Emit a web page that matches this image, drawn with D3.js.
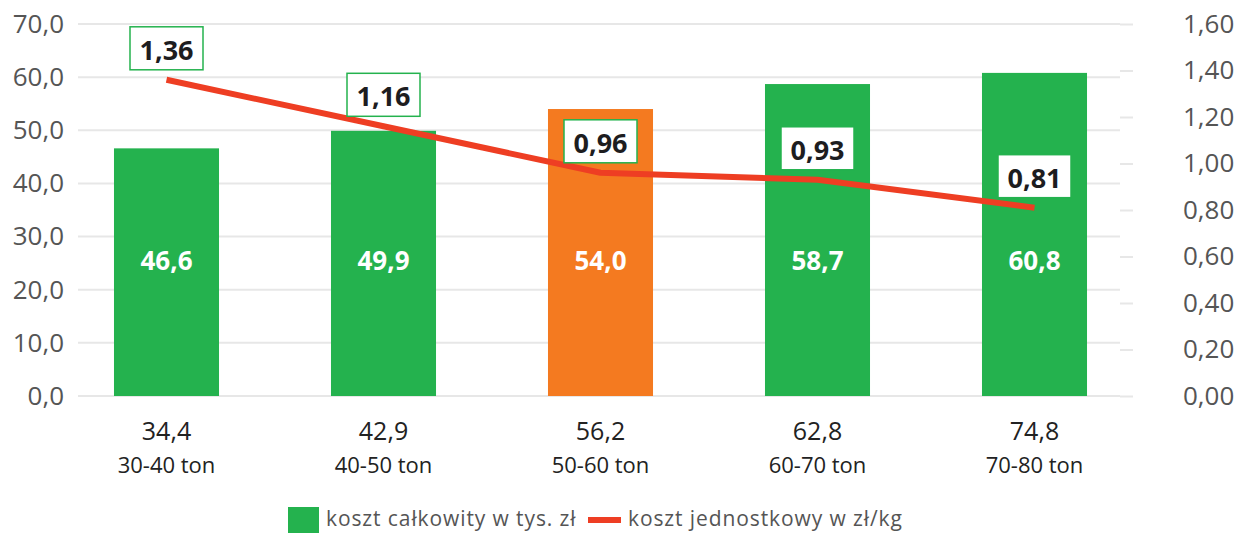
<!DOCTYPE html>
<html>
<head>
<meta charset="utf-8">
<script src="https://cdn.jsdelivr.net/npm/d3@7"></script>
<style>
  body { margin: 0; background: #fff; }
  svg { display: block; font-family: "Open Sans", "Noto Sans", sans-serif; }
</style>
</head>
<body>
<svg id="chart" width="1241" height="533"></svg>
<script>
// Cost of production by farm size class
const categories = ["30-40 ton", "40-50 ton", "50-60 ton", "60-70 ton", "70-80 ton"];
const volumes = ["34,4", "42,9", "56,2", "62,8", "74,8"];
const totalCost = [46.6, 49.9, 54.0, 58.7, 60.8];      // tys. zł
const unitCost = [1.36, 1.16, 0.96, 0.93, 0.81];       // zł/kg
const leftTicks = [0, 10, 20, 30, 40, 50, 60, 70];
const rightTicks = [0, 0.2, 0.4, 0.6, 0.8, 1.0, 1.2, 1.4, 1.6];
const legendLabels = ["koszt całkowity w tys. zł", "koszt jednostkowy w zł/kg"];
const highlightCategory = "50-60 ton";

const GREEN = "#24b24e", ORANGE = "#f47a20", RED = "#ee3e23", GRID = "#e7e7e7";

const svg = d3.select("#chart");
const plotTop = 24, plotBottom = 396, gridLeft = 78, gridRight = 1120;

const x = d3.scaleBand().domain(categories).range([58, 1143])
  .paddingInner(0.516).paddingOuter(0.258);
const yL = d3.scaleLinear().domain([0, 70]).range([plotBottom, plotTop]);
const yR = d3.scaleLinear().domain([0, 1.6]).range([plotBottom, plotTop]);
const comma = (fmt) => (d) => d3.format(fmt)(d).replace(".", ",");

// gridlines of the left scale
svg.append("g")
  .selectAll("line").data(leftTicks).join("line")
  .attr("x1", gridLeft).attr("x2", gridRight)
  .attr("y1", d => yL(d)).attr("y2", d => yL(d))
  .attr("stroke", GRID).attr("stroke-width", 2);

// left axis
const gL = svg.append("g").attr("transform", `translate(${gridLeft},0)`)
  .call(d3.axisLeft(yL).tickValues(leftTicks).tickFormat(comma(".1f")).tickSize(0).tickPadding(14));
gL.select(".domain").remove();
gL.selectAll("text").attr("font-size", 26).attr("fill", "#555")
  .attr("font-family", "\"Open Sans\", sans-serif");

// right axis
const gR = svg.append("g").attr("transform", `translate(${gridRight},0)`)
  .call(d3.axisRight(yR).tickValues(rightTicks).tickFormat(comma(".2f")).tickSize(13).tickPadding(50));
gR.select(".domain").remove();
gR.selectAll("line").attr("stroke", GRID).attr("stroke-width", 2);
gR.selectAll("text").attr("font-size", 26).attr("fill", "#555")
  .attr("font-family", "\"Open Sans\", sans-serif");

// bars
svg.append("g").selectAll("rect").data(categories).join("rect")
  .attr("x", d => x(d)).attr("width", x.bandwidth())
  .attr("y", (d, i) => yL(totalCost[i]))
  .attr("height", (d, i) => yL(0) - yL(totalCost[i]))
  .attr("fill", d => d === highlightCategory ? ORANGE : GREEN);

// bar values
svg.append("g").selectAll("text").data(categories).join("text")
  .attr("x", d => x(d) + x.bandwidth() / 2).attr("y", 260)
  .attr("text-anchor", "middle").attr("dominant-baseline", "central")
  .attr("font-size", 26).attr("font-weight", 700).attr("fill", "#fff")
  .text((d, i) => comma(".1f")(totalCost[i]));

// unit cost line
const line = d3.line()
  .x((d, i) => x(categories[i]) + x.bandwidth() / 2)
  .y(d => yR(d));
svg.append("path").datum(unitCost)
  .attr("d", line).attr("fill", "none")
  .attr("stroke", RED).attr("stroke-width", 6).attr("stroke-linejoin", "round");

// unit cost labels
const boxW = 73, boxH = 43;
const lab = svg.append("g").selectAll("g").data(unitCost).join("g")
  .attr("transform", (d, i) =>
    `translate(${x(categories[i]) + x.bandwidth() / 2},${yR(d) - 10 - boxH / 2})`);
lab.append("rect")
  .attr("x", -boxW / 2).attr("y", -boxH / 2).attr("width", boxW).attr("height", boxH)
  .attr("fill", "#fff").attr("stroke", GREEN).attr("stroke-width", 1.5);
lab.append("text")
  .attr("text-anchor", "middle").attr("dominant-baseline", "central").attr("y", 1)
  .attr("font-size", 27).attr("font-weight", 700).attr("fill", "#1d1d1f")
  .text(d => comma(".2f")(d));

// category labels
const xl = svg.append("g").selectAll("g").data(categories).join("g")
  .attr("transform", d => `translate(${x(d) + x.bandwidth() / 2},0)`);
xl.append("text").attr("y", 440).attr("text-anchor", "middle")
  .attr("font-size", 25).attr("fill", "#222").text((d, i) => volumes[i]);
xl.append("text").attr("y", 473).attr("text-anchor", "middle")
  .attr("font-size", 22).attr("fill", "#222").text(d => d);

// legend
const leg = svg.append("g").attr("font-size", 21).attr("fill", "#555").attr("letter-spacing", 0.9);
leg.append("rect").attr("x", 288).attr("y", 507).attr("width", 31).attr("height", 28).attr("fill", GREEN);
leg.append("text").attr("x", 326).attr("y", 526).text(legendLabels[0]);
leg.append("line").attr("x1", 588).attr("x2", 621).attr("y1", 520).attr("y2", 520)
  .attr("stroke", RED).attr("stroke-width", 6);
leg.append("text").attr("x", 628).attr("y", 526).text(legendLabels[1]);
</script>
</body>
</html>
